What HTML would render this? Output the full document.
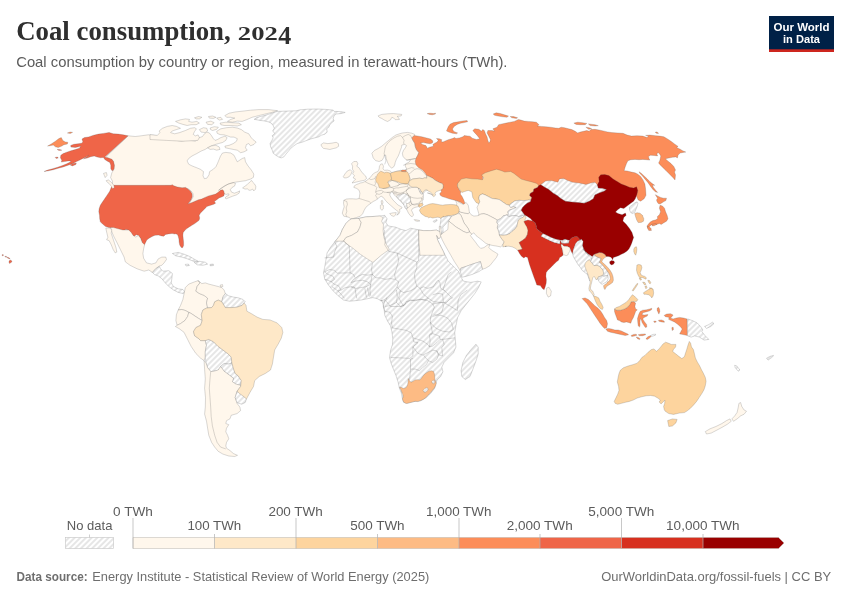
<!DOCTYPE html>
<html lang="en">
<head>
<meta charset="utf-8">
<title>Coal consumption, 2024</title>
<style>
html,body{margin:0;padding:0;background:#fff;}
body{width:850px;height:600px;overflow:hidden;font-family:"Liberation Sans",sans-serif;}
svg{display:block;}
.title{font-family:"Liberation Serif",serif;font-weight:bold;font-size:28px;fill:#2f2f2f;}
.sub{font-family:"Liberation Sans",sans-serif;font-size:15px;fill:#5b5b5b;}
.lg{font-family:"Liberation Sans",sans-serif;font-size:13px;fill:#5b5b5b;}
.ft{font-family:"Liberation Sans",sans-serif;font-size:13px;fill:#6e6e6e;}
.logo{font-family:"Liberation Sans",sans-serif;font-weight:bold;font-size:11.5px;fill:#fff;}
.map path{stroke:#555;stroke-opacity:0.5;stroke-width:0.45;stroke-linejoin:round;}
</style>
</head>
<body>
<svg width="850" height="600" viewBox="0 0 850 600">
<defs>
<pattern id="hatch" patternUnits="userSpaceOnUse" width="4" height="4" patternTransform="rotate(-45)">
<rect width="4" height="4" fill="#fff"/>
<rect x="0" y="0" width="4" height="2" fill="#e6e6e6"/>
</pattern>
</defs>
<rect width="850" height="600" fill="#fff"/>
<text class="title" x="16.2" y="40"><tspan textLength="214.5" lengthAdjust="spacingAndGlyphs">Coal consumption,</tspan> <tspan x="237.8" y="39.8" style="font-size:19.4px" textLength="40" lengthAdjust="spacingAndGlyphs">202</tspan><tspan x="278.3" y="43.8" style="font-size:25px" textLength="13" lengthAdjust="spacingAndGlyphs">4</tspan></text>
<text class="sub" x="16.2" y="66.5" textLength="491.3" lengthAdjust="spacingAndGlyphs">Coal consumption by country or region, measured in terawatt-hours (TWh).</text>
<g>
<rect x="769" y="16" width="65" height="36" fill="#002147"/>
<rect x="769" y="49.3" width="65" height="2.7" fill="#ce261e"/>
<text class="logo" x="801.5" y="31" text-anchor="middle" textLength="56" lengthAdjust="spacingAndGlyphs">Our World</text>
<text class="logo" x="801.5" y="43" text-anchor="middle" textLength="37" lengthAdjust="spacingAndGlyphs">in Data</text>
</g>
<g class="map">
<path d="M47.6,146.1L51.2,144.0L55.4,141.2L58.9,138.6L61.3,137.6L62.8,140.5L65.3,141.9L67.8,142.3L67.4,144.0L63.9,144.7L61.8,146.1L58.2,147.5L55.4,146.8L53.3,145.1L49.8,145.7Z" fill="#fc8d59"/>
<path d="M67.4,133.0L70.2,132.0L72.6,132.4L70.2,133.4Z" fill="#fc8d59"/>
<path d="M128.2,135.8L135.3,136.5L141.2,135.8L148.2,134.8L154.1,135.3L157.6,136.5L162.4,135.3L165.9,138.8L169.4,137.6L174.1,140.0L181.2,141.2L188.2,140.0L195.3,141.2L199.4,137.6L202.4,136.6L204.4,133.8L206.8,132.1L209.3,132.9L211.3,135.4L213.4,138.7L215.1,140.4L217.5,139.5L220.8,137.6L224.9,136.2L227.1,137.6L225.8,140.4L222.5,142.5L218.4,143.6L214.2,144.8L210.9,146.1L207.6,147.8L205.2,149.4L201.1,151.1L196.9,153.5L192.0,156.0L188.7,158.5L187.1,160.9L188.7,164.2L192.0,165.9L196.1,167.5L200.2,169.2L203.5,171.6L203.0,175.8L204.4,178.7L206.8,178.2L209.0,174.9L209.6,171.6L213.4,169.2L215.9,166.7L217.5,163.4L219.2,159.3L220.5,156.0L222.5,153.0L225.8,152.4L230.7,153.0L234.0,155.2L235.6,158.5L237.3,161.8L239.8,160.1L242.2,158.5L244.7,157.6L245.5,161.8L248.0,165.9L251.3,170.0L253.8,174.1L253.4,177.4L250.5,179.1L245.5,180.7L239.8,181.5L234.0,182.4L228.2,184.0L224.1,186.5L218.5,190.3L221.5,187.9L225.0,185.6L229.1,183.8L233.2,182.6L235.6,183.5L234.4,186.2L232.1,187.4L230.3,189.7L231.5,192.1L234.4,193.2L237.4,192.1L239.7,190.9L239.1,193.2L236.2,195.0L232.6,196.2L229.1,197.6L226.2,198.8L225.0,197.9L226.8,196.2L229.1,195.0L228.5,193.8L226.2,194.4L224.4,193.8L222.6,191.5L220.3,191.5L218.5,193.2L215.6,195.2L212.1,196.2L208.5,197.1L205.0,198.5L201.5,200.3L198.5,200.9L194.4,202.6L190.3,204.4L187.9,205.0L189.5,203.2L191.1,200.3L193.2,196.8L193.0,193.8L191.1,190.9L188.5,189.1L185.6,188.2L182.1,188.6L177.4,187.9L173.2,186.5L171.5,186.3L165.0,186.3L171.5,186.2L112.6,186.2L112.4,183.5L112.5,181.2L110.6,177.6L111.8,172.9L113.6,169.9L114.1,165.9L112.9,160.7L109.4,158.8L106.4,156.5Z" fill="#fff7ec"/>
<path d="M128.1,135.8L123.2,134.8L118.2,134.1L113.3,133.8L109.1,132.4L103.4,133.4L98.5,134.1L93.5,135.2L88.6,136.9L84.4,137.6L82.0,139.1L82.9,141.9L81.5,143.3L78.0,143.7L73.8,144.3L70.7,145.4L70.9,147.1L75.2,147.5L78.7,146.8L80.8,146.1L79.4,148.2L75.2,149.6L70.9,150.8L66.7,152.2L63.2,153.6L60.8,155.3L60.4,157.8L61.8,160.2L61.3,162.1L64.6,161.6L68.1,160.9L70.9,160.9L70.2,162.1L66.7,163.8L62.5,165.5L57.5,167.3L52.6,168.7L47.6,170.1L44.1,171.5L48.4,170.8L53.3,169.7L58.2,168.3L63.2,166.9L68.1,165.2L72.4,163.8L76.6,161.6L79.4,160.2L82.9,158.4L85.8,157.0L88.6,155.3L86.5,157.0L83.6,158.8L87.2,158.1L90.7,156.7L94.2,156.0L97.1,157.0L100.6,157.8L103.4,157.4L104.8,159.5L107.4,161.2L109.8,162.4L110.8,165.2L110.8,168.7L111.9,170.5L113.0,170.5L114.1,168.7L114.4,165.2L113.6,161.6L111.9,159.2L108.4,158.1L104.8,157.0Z" fill="#ef6548"/>
<path d="M70.2,164.9L73.1,163.5L76.3,163.1L75.9,164.5L72.4,165.9Z" fill="#ef6548"/>
<path d="M57.1,149.4L59.6,149.4L61.8,150.2L58.9,150.4Z" fill="#ef6548"/>
<path d="M55.1,157.4L57.5,157.0L58.2,158.1L56.1,158.4Z" fill="#ef6548"/>
<path d="M112.6,185.3L171.5,185.3L172.1,184.5L173.2,185.6L177.4,187.0L182.1,187.7L185.6,187.4L187.9,188.9L190.3,190.9L192.1,193.8L192.3,196.8L191.1,199.7L189.5,202.1L187.9,203.8L190.3,203.2L194.4,201.5L198.5,199.7L201.5,199.1L205.0,197.4L208.5,195.9L212.1,195.0L215.6,194.1L218.5,192.1L220.3,190.3L222.6,189.7L223.8,190.9L224.4,193.8L223.8,195.9L221.5,197.1L219.1,197.9L216.8,199.7L214.4,201.5L215.6,203.2L213.8,204.2L211.5,205.0L209.1,205.8L206.8,206.5L205.6,207.9L203.8,209.7L202.1,211.5L200.3,213.2L199.1,215.6L199.7,217.9L199.1,220.3L196.8,222.1L194.4,223.8L191.5,225.6L188.5,227.4L186.2,229.1L184.4,230.9L183.2,232.6L182.9,235.0L183.2,238.5L183.6,242.1L183.6,245.6L182.6,247.7L181.2,247.4L179.7,245.0L179.1,242.1L178.9,239.1L178.2,236.2L177.4,234.4L175.6,233.8L175.0,234.1L172.1,233.5L168.5,233.9L165.6,234.4L163.8,236.2L161.5,235.9L158.5,235.1L155.0,235.3L152.1,236.5L149.1,238.2L146.8,240.0L145.6,242.4L144.4,244.9L142.6,244.1L141.5,241.8L140.3,238.2L138.5,235.3L136.2,234.7L134.4,236.2L132.1,235.3L130.3,232.4L128.5,230.0L125.8,229.6L123.8,230.6L120.9,230.4L116.8,229.2L112.6,228.2L109.1,227.6L105.6,226.5L102.6,224.1L100.3,221.8L99.7,218.8L99.5,215.3L98.8,211.8L99.1,208.8L100.3,205.3L102.6,201.8L105.0,198.2L107.4,194.7L109.7,191.2L110.9,188.2Z" fill="#ef6548"/>
<path d="M110.7,227.4L113.5,227.6L118.2,228.8L122.9,230.0L128.8,230.0L131.2,232.4L133.5,235.9L135.9,237.1L138.2,235.4L140.6,238.2L142.2,242.5L144.6,244.8L143.6,248.8L142.9,253.5L143.6,258.2L146.5,262.9L151.6,264.1L155.9,262.9L158.2,258.9L161.8,257.1L165.8,257.1L166.5,259.4L164.1,262.9L161.8,265.3L159.4,266.0L157.1,267.6L154.7,270.0L152.4,272.4L148.8,270.0L144.1,271.2L137.1,268.8L130.0,265.3L125.3,261.8L124.1,257.1L120.6,250.0L117.1,242.9L113.5,235.9L111.6,231.2Z" fill="#fff7ec"/>
<path d="M105.8,228.2L109.1,227.9L111.9,229.6L111.2,233.2L112.8,238.1L114.5,243.1L116.1,248.0L116.8,252.1L115.2,252.9L113.2,249.6L111.2,244.7L109.1,240.6L106.6,239.8L107.9,237.3L106.9,233.2Z" fill="#fff7ec"/>
<path d="M152.4,272.4L155.9,268.4L159.4,266.5L160.6,268.8L162.9,271.2L168.8,270.7L172.4,273.5L171.9,278.2L171.2,282.9L173.5,286.5L178.2,288.8L182.9,289.5L185.3,292.4L182.9,293.5L178.2,292.4L173.5,290.0L168.8,286.5L165.3,282.9L161.8,278.7L158.2,275.9L154.7,274.7Z" fill="url(#hatch)" stroke="#999" stroke-opacity="0.38"/>
<path d="M172.4,253.5L178.2,252.4L184.1,254.2L190.0,256.6L194.7,259.4L198.2,261.3L193.5,261.3L187.6,258.9L181.8,257.1L175.9,255.9Z" fill="url(#hatch)" stroke="#999" stroke-opacity="0.38"/>
<path d="M194.0,262.2L199.4,261.3L205.3,262.2L207.6,264.1L202.9,265.3L197.1,264.8Z" fill="url(#hatch)" stroke="#999" stroke-opacity="0.38"/>
<path d="M185.3,264.4L188.4,264.1L189.3,265.5L186.0,266.0Z" fill="url(#hatch)" stroke="#999" stroke-opacity="0.38"/>
<path d="M210.0,264.4L213.3,264.1L213.5,265.5L210.2,265.8Z" fill="url(#hatch)" stroke="#999" stroke-opacity="0.38"/>
<path d="M254.2,119.3L256.8,117.5L260.0,116.6L264.2,115.6L269.5,114.0L273.8,112.4L277.5,111.4L286.5,111.1L296.0,110.8L300.2,109.8L307.6,109.2L317.2,109.0L325.6,109.4L333.1,110.1L334.1,111.4L340.5,111.6L345.2,112.4L341.5,113.5L336.2,114.0L334.1,115.6L333.1,118.8L334.1,120.9L332.0,122.5L329.9,124.6L328.8,127.2L326.7,128.8L327.2,132.0L325.1,134.1L321.4,135.2L318.8,136.8L315.1,137.8L310.8,138.9L306.6,140.5L302.4,142.1L297.1,143.6L293.9,145.8L290.7,148.4L288.1,151.6L285.9,154.2L283.8,156.9L281.2,157.9L278.5,156.9L275.9,155.3L273.2,153.2L272.2,150.0L270.6,146.8L270.1,143.6L271.6,141.0L273.2,137.8L272.2,135.7L274.8,133.6L272.7,130.9L274.3,128.3L273.2,125.6L271.1,123.0L268.5,121.9L264.2,120.9L260.0,120.4Z" fill="url(#hatch)" stroke="#999" stroke-opacity="0.38"/>
<path d="M320.9,144.7L323.5,142.9L327.8,143.6L332.0,143.1L336.2,142.3L338.4,143.6L338.6,146.3L336.2,147.9L333.1,148.6L329.9,149.5L326.7,148.9L323.5,148.4L321.9,146.8Z" fill="#fff7ec"/>
<path d="M150.0,134.6L157.4,135.4L159.9,132.6L159.1,131.0L162.4,128.3L167.3,126.4L172.2,125.5L176.4,126.4L180.5,128.3L176.4,129.6L172.2,131.0L170.6,132.6L174.7,133.8L179.6,132.6L185.4,130.5L190.4,128.3L194.5,127.7L196.4,128.8L194.5,131.6L193.2,134.3L195.3,135.9L198.1,134.9L199.4,137.6L197.8,140.4L182.9,141.2L166.5,140.4L150.0,139.5Z" fill="#fff7ec"/>
<path d="M216.7,131.3L220.8,128.8L226.6,127.7L232.4,127.2L237.3,128.0L241.4,129.6L244.7,132.1L248.8,133.8L250.8,137.1L252.9,139.5L256.2,142.0L253.8,144.5L250.5,145.8L248.8,143.6L246.4,144.5L245.5,147.8L247.2,150.2L243.9,151.9L240.6,152.7L237.3,150.2L233.2,149.4L229.1,148.6L225.4,147.8L224.9,146.1L229.1,145.3L233.2,143.6L236.5,141.2L237.3,138.7L234.0,137.1L230.7,137.1L227.4,135.9L224.1,134.9L220.0,134.6L217.2,133.3Z" fill="#fff7ec"/>
<path d="M224.9,115.6L229.1,113.2L235.6,111.9L242.2,111.2L250.5,110.2L258.7,109.6L268.6,109.6L277.6,110.7L271.9,112.4L265.3,114.0L258.7,115.6L252.1,117.3L246.4,119.8L242.2,121.4L237.3,121.1L232.4,122.2L227.4,121.4L230.7,119.4L234.8,118.1L230.7,117.3L226.6,117.3Z" fill="#fff7ec"/>
<path d="M220.0,123.1L225.8,122.2L232.4,122.7L238.9,123.1L241.4,124.7L237.3,126.0L230.7,125.5L224.1,125.5L220.8,124.7Z" fill="#fff7ec"/>
<path d="M175.5,121.4L180.5,119.8L185.4,118.9L189.5,119.4L188.7,121.4L192.0,122.2L196.9,121.4L199.4,123.1L196.1,124.7L191.2,124.7L187.1,125.5L182.9,124.4L178.8,123.1Z" fill="#fff7ec"/>
<path d="M194.5,117.8L198.6,116.5L201.9,117.3L199.4,118.9L196.1,118.9Z" fill="#fff7ec"/>
<path d="M208.5,116.5L212.6,116.0L215.9,117.3L213.4,118.4L209.3,118.1Z" fill="#fff7ec"/>
<path d="M216.7,118.1L220.8,117.3L222.5,119.4L219.2,120.1Z" fill="#fff7ec"/>
<path d="M206.0,122.2L210.9,121.1L214.2,122.7L211.8,124.7L207.6,124.4Z" fill="#fff7ec"/>
<path d="M199.4,129.6L203.5,127.7L206.8,128.3L207.6,131.0L205.2,132.6L201.1,132.1Z" fill="#fff7ec"/>
<path d="M210.1,128.0L214.2,126.7L218.4,127.2L216.7,129.3L212.6,130.5L210.6,129.6Z" fill="#fff7ec"/>
<path d="M207.6,147.8L211.8,145.8L215.9,145.3L219.2,146.9L220.0,149.4L216.7,150.2L213.4,149.1L210.1,149.4Z" fill="#fff7ec"/>
<path d="M242.6,187.9L245.0,186.2L247.4,184.4L249.7,182.1L251.5,180.3L252.6,182.1L254.4,183.8L255.8,186.2L255.6,189.1L253.8,190.9L252.6,189.1L250.9,190.1L249.1,190.3L247.4,188.9L245.0,189.1Z" fill="#fff7ec"/>
<path d="M106.2,180.6L108.5,180.0L111.5,182.4L113.8,185.3L114.4,187.6L112.6,188.8L111.5,186.5L109.1,183.5L106.8,181.8Z" fill="#fff7ec"/>
<path d="M103.5,173.4L106.4,172.5L107.1,175.3L105.2,177.6Z" fill="#fff7ec"/>
<path d="M185.3,287.6L188.8,284.1L194.7,281.8L198.2,280.6L199.9,282.9L197.1,286.5L195.9,291.2L199.4,293.5L204.1,295.4L207.6,298.2L206.5,302.9L207.6,307.6L206.5,308.1L202.9,310.0L201.3,314.7L202.2,320.6L198.2,318.2L194.7,315.9L191.2,313.5L188.8,312.4L185.3,310.5L181.8,309.5L178.2,310.0L180.6,305.3L182.9,299.4L184.1,293.5Z" fill="#fff7ec"/>
<path d="M198.2,280.6L199.9,282.9L197.1,286.5L195.9,291.2L199.4,293.5L204.1,295.4L207.6,298.2L206.5,302.9L207.6,307.6L211.6,307.6L213.5,305.3L214.7,301.8L218.2,300.1L221.8,301.8L222.9,297.1L225.3,293.5L224.1,290.0L221.8,287.6L218.2,286.5L213.5,285.3L208.8,284.1L205.3,282.9L201.8,283.6Z" fill="#fff7ec"/>
<path d="M220.1,285.1L222.5,284.6L222.9,286.5L220.6,286.9Z" fill="#fff7ec"/>
<path d="M222.9,297.1L225.3,293.5L228.8,295.9L233.5,297.1L238.2,297.8L242.9,299.4L245.3,301.8L244.1,302.9L242.2,305.3L237.1,307.2L231.2,307.6L225.3,307.6L221.8,301.8Z" fill="url(#hatch)" stroke="#999" stroke-opacity="0.38"/>
<path d="M178.2,310.0L181.8,309.5L185.3,310.5L188.8,312.4L187.6,316.6L184.8,320.6L180.6,323.6L177.1,325.3L175.9,320.6L176.4,314.7Z" fill="#fff7ec"/>
<path d="M177.1,325.3L180.6,323.6L184.8,320.6L187.6,316.6L188.8,312.4L191.2,313.5L194.7,315.9L198.2,318.2L202.2,320.6L200.6,325.3L195.9,327.6L193.5,331.6L194.7,335.9L198.2,338.2L200.6,340.6L205.3,340.6L206.5,345.3L205.3,351.2L205.3,357.1L204.1,360.6L200.6,358.2L195.9,353.5L191.2,346.5L187.6,339.4L184.1,332.4L179.4,328.8L175.4,326.5Z" fill="#fff7ec"/>
<path d="M205.3,340.6L208.8,339.4L213.5,341.8L218.2,346.5L222.9,350.0L227.6,353.5L231.2,357.1L231.9,362.9L228.8,364.1L224.1,363.6L220.6,366.5L218.2,370.0L214.0,371.2L210.7,371.6L207.6,367.6L206.0,362.9L205.3,357.1L205.3,351.2L206.5,345.3Z" fill="url(#hatch)" stroke="#999" stroke-opacity="0.38"/>
<path d="M220.6,366.5L224.1,363.6L228.8,364.1L231.9,362.9L233.5,368.8L235.2,373.5L238.2,375.9L241.3,380.6L240.6,385.3L235.9,384.1L232.4,381.8L233.5,378.2L228.8,374.7L224.1,371.2Z" fill="url(#hatch)" stroke="#999" stroke-opacity="0.38"/>
<path d="M204.1,360.6L206.0,362.9L207.6,367.6L210.7,371.6L214.0,371.2L218.2,370.0L220.6,366.5L224.1,371.2L228.8,374.7L233.5,378.2L232.4,381.8L235.9,384.1L240.6,385.3L240.6,386.5L237.1,391.2L235.2,397.1L235.2,397.6L237.1,403.5L239.9,407.1L240.6,410.6L237.1,413.6L231.2,415.3L230.0,418.8L226.5,420.7L225.8,423.5L228.8,424.7L226.5,428.2L225.8,431.8L227.6,435.3L228.8,438.8L226.5,442.4L225.8,445.9L226.5,448.2L230.0,450.6L233.5,453.6L237.5,455.3L234.7,456.5L228.8,456.0L222.9,454.1L218.2,451.3L214.7,447.1L211.6,442.4L208.8,435.3L207.6,428.2L206.5,421.2L204.6,414.1L205.3,407.1L205.5,397.6L204.6,388.2L205.3,378.8L204.6,369.4L204.1,361.2Z" fill="#fff7ec"/>
<path d="M210.7,371.8L210.0,378.8L209.3,388.2L210.0,397.6L210.7,407.1L211.2,416.5L212.4,425.9L214.7,435.3L217.1,442.4L220.6,447.1L225.8,448.9" fill="none"/>
<path d="M237.1,391.3L240.6,392.9L242.9,395.3L246.5,398.8L245.3,402.4L241.8,404.2L237.1,402.8L235.2,397.6Z" fill="url(#hatch)" stroke="#999" stroke-opacity="0.38"/>
<path d="M214.7,301.8L218.2,300.1L221.8,301.8L225.3,307.6L231.2,307.6L237.1,307.2L242.2,305.3L244.1,302.9L246.0,305.3L246.9,311.2L251.2,313.5L257.1,317.1L262.9,319.4L270.0,319.9L277.1,322.9L281.8,327.6L282.9,332.4L281.3,338.2L278.2,344.1L274.7,350.0L273.5,357.1L272.4,364.1L270.5,370.0L265.3,373.5L259.4,376.4L254.7,380.6L253.5,386.5L250.0,392.4L246.5,398.9L242.9,395.9L239.4,393.5L237.1,391.2L240.6,386.5L241.3,380.6L238.2,375.9L235.2,373.5L233.5,368.8L231.9,362.9L231.2,357.1L227.6,353.5L222.9,350.0L218.2,346.5L213.5,341.8L208.8,339.4L205.3,340.6L200.6,340.6L198.2,338.2L194.7,335.9L193.5,331.6L195.9,327.6L200.6,325.3L202.2,320.6L201.3,314.7L202.9,310.0L206.5,308.1L211.6,307.6L213.5,305.3Z" fill="#fee8c8"/>
<path d="M343.2,176.8L345.0,173.8L347.4,170.9L350.3,169.7L352.1,171.5L350.9,174.4L349.1,176.8L346.2,177.9L344.2,177.9Z" fill="#fff7ec"/>
<path d="M351.5,163.8L353.8,161.5L356.8,161.5L357.9,163.8L356.8,166.2L359.1,167.9L360.9,170.9L363.2,173.8L365.8,176.2L366.5,178.5L364.4,180.3L360.3,181.1L356.2,182.1L352.1,183.0L353.8,180.9L355.6,179.1L353.2,177.9L354.4,175.6L352.6,173.8L353.8,171.5L352.4,169.1L352.6,166.2Z" fill="#fff7ec"/>
<path d="M380.6,164.2L379.5,166.2L379.1,169.1L377.9,171.5L375.0,172.6L372.6,174.4L370.9,176.8L369.1,178.5L366.8,180.3L365.0,181.5L362.6,182.6L360.3,183.0L358.5,183.8L356.8,184.4L354.4,185.8L353.8,187.4L356.8,188.5L359.1,190.3L359.9,193.2L359.5,196.2L359.1,198.5L356.2,199.1L352.6,198.8L349.1,198.8L346.2,199.1L343.8,200.3L343.5,203.2L344.2,206.8L343.0,210.3L342.3,213.2L343.8,216.2L346.8,216.8L349.1,217.4L350.9,219.1L353.2,218.5L356.8,217.4L360.3,216.2L362.6,213.8L364.2,210.3L365.8,207.4L368.5,205.0L370.9,203.2L373.2,201.5L375.6,200.3L377.4,199.1L379.1,197.6L381.1,196.2L383.2,197.4L385.4,200.3L387.9,203.0L390.9,205.6L393.8,208.2L396.4,210.3L398.3,211.7L397.9,213.8L396.8,215.2L399.1,213.6L399.9,211.2L399.5,209.4L401.5,208.5L402.1,207.4L400.3,206.2L397.9,205.0L395.6,202.6L393.2,200.3L391.2,197.6L389.7,195.0L390.3,192.9L392.1,191.7L393.2,193.2L394.4,195.0L396.2,196.8L398.5,199.1L400.9,201.5L403.2,203.8L405.0,206.2L406.2,208.5L407.4,210.9L408.5,213.2L410.3,215.6L412.1,216.8L413.6,215.0L412.6,212.6L411.5,210.3L412.6,208.5L415.0,207.4L417.4,206.8L419.7,205.6L421.5,204.4L422.6,203.2L422.1,201.5L423.0,199.7L423.5,197.4L422.6,195.0L423.8,192.6L425.6,190.9L427.9,190.3L435.0,190.3L435.0,155.0L415.0,155.0L411.5,155.6L409.1,156.8L407.9,158.5L410.3,160.3L409.1,162.1L406.8,163.2L405.0,164.4L405.6,166.8L406.8,169.1L405.6,170.3L402.6,170.9L400.9,170.3L397.4,170.9L393.8,172.1L391.5,172.6L390.3,170.9L387.4,170.1L384.4,170.3L383.0,168.9L383.5,166.2L382.3,163.8Z" fill="#fff7ec"/>
<path d="M389.7,213.6L392.6,212.9L396.2,212.6L395.6,215.0L393.8,216.4L391.5,215.6Z" fill="#fff7ec"/>
<path d="M380.3,205.4L381.8,204.6L383.5,205.6L383.2,209.1L381.8,210.3L380.4,208.5Z" fill="#fff7ec"/>
<path d="M381.1,200.9L382.3,200.3L383.0,202.1L382.5,204.2L381.5,203.8Z" fill="#fff7ec"/>
<path d="M408.7,174.5L410.4,172.8L412.4,171.2L414.5,169.5L416.9,168.7L419.4,169.1L421.5,170.4L423.5,172.4L425.2,174.5L426.8,176.1L426.8,178.2L424.8,177.8L422.7,178.6L419.4,178.2L416.1,178.6L412.8,179.0L409.9,180.6L409.9,178.6L409.4,176.5Z" fill="#fff7ec"/>
<path d="M406.6,189.7L409.1,188.5L411.2,187.6L412.8,187.4L414.9,187.2L416.9,187.4L418.6,188.2L419.8,191.8L421.1,193.8L422.7,193.4L423.5,195.1L422.7,196.7L421.9,197.9L421.5,200.0L420.6,201.6L419.0,202.5L419.4,203.7L416.9,203.5L414.9,204.1L412.8,204.4L411.2,203.3L410.8,201.2L410.2,199.6L410.4,196.7L408.7,195.9L407.5,193.8L406.2,191.8Z" fill="#fff7ec"/>
<path d="M376.2,177.4L377.4,174.5L379.1,172.4L380.7,171.2L382.4,171.8L384.4,172.8L386.5,172.2L388.5,172.6L390.2,173.2L391.0,175.7L391.6,178.2L391.2,180.2L389.4,180.6L387.7,181.9L388.5,183.5L389.8,185.2L389.4,186.8L387.7,187.6L385.6,188.2L383.2,188.5L380.7,188.1L379.1,187.6L378.6,185.6L377.8,183.5L376.2,181.9L375.6,179.8Z" fill="#fdd49e"/>
<path d="M390.2,173.2L392.6,172.4L395.5,171.6L398.4,171.2L401.3,170.9L403.8,171.6L406.6,171.6L408.0,172.6L408.7,174.5L409.4,176.5L409.9,178.6L409.5,180.6L408.7,182.7L407.5,183.9L405.4,184.1L402.9,183.5L400.9,183.3L398.8,182.3L396.8,181.5L394.7,180.8L392.6,180.5L391.2,180.2L391.6,178.2L391.0,175.7Z" fill="#fdd49e"/>
<path d="M401.1,170.6L402.5,169.9L405.0,169.9L406.4,170.6L406.2,171.6L403.8,171.6L401.5,171.4Z" fill="#fc8d59"/>
<path d="M396.4,195.9L398.4,195.1L400.9,194.8L402.9,193.8L404.6,193.4L406.6,194.2L408.0,195.9L409.1,197.5L410.4,197.9L410.2,199.6L410.8,201.2L409.5,202.5L408.3,203.3L407.1,203.7L406.2,202.7L406.6,204.5L407.1,206.6L407.5,208.2L406.2,209.1L405.0,207.8L404.2,205.8L403.8,204.1L402.5,203.3L401.7,201.6L400.1,200.4L398.4,198.8L397.2,197.3Z" fill="url(#hatch)" stroke="#999" stroke-opacity="0.38"/>
<path d="M371.8,153.2L374.7,150.3L378.2,148.5L381.8,146.2L385.3,143.2L388.8,140.3L392.4,137.4L395.9,135.0L399.4,133.8L402.9,132.9L407.6,132.4L411.8,133.2L414.7,134.4L414.1,135.6L411.8,137.9L412.9,140.3L414.7,143.2L415.3,146.8L416.5,149.7L418.8,152.6L417.6,155.6L415.9,158.5L412.9,159.1L410.0,159.7L407.1,160.3L404.7,158.5L402.9,156.2L402.4,153.2L403.5,150.3L405.3,147.9L406.5,145.6L404.7,144.4L401.8,145.0L401.5,147.4L400.4,150.3L399.4,153.2L398.2,156.2L396.5,159.1L395.3,162.1L394.7,165.0L394.6,165.0L393.8,166.8L391.5,168.2L389.1,165.6L387.4,162.1L386.2,158.5L385.6,155.0L384.4,155.0L383.8,157.4L382.1,160.3L379.1,161.5L375.6,160.6L373.2,157.9L372.4,155.0Z" fill="#fff7ec"/>
<path d="M411.8,137.9L414.1,135.6L417.1,135.9L421.8,136.8L426.5,137.9L430.6,139.1L432.9,140.9L432.4,143.0L430.0,143.8L426.5,143.2L423.5,142.6L420.6,143.0L422.4,144.4L425.9,145.6L427.6,148.5L428.8,147.4L431.2,146.8L433.5,146.2L432.9,144.4L434.7,143.2L437.1,142.1L438.2,140.3L436.5,138.5L439.4,138.8L441.8,139.7L441.2,141.5L442.9,142.1L445.3,140.9L448.2,139.7L452.4,138.5L454.7,137.6L455.9,138.5L459.4,137.9L462.9,136.8L464.1,135.6L467.6,135.9L470.0,136.2L472.3,138.2L476.4,139.5L479.7,138.7L477.2,135.4L474.8,132.9L472.8,130.5L474.8,128.8L478.9,129.3L481.4,131.3L482.7,129.6L484.3,130.5L485.5,133.8L487.1,137.1L487.9,140.4L488.8,142.8L489.9,142.0L490.4,139.5L488.8,136.2L487.1,132.9L487.9,130.5L492.1,130.5L494.5,131.3L492.9,128.8L497.0,127.2L498.6,124.7L501.9,123.9L506.1,123.1L510.2,122.2L514.3,121.4L518.4,119.4L520.9,120.1L524.2,121.1L528.3,121.4L532.4,121.7L536.5,122.2L539.0,124.7L537.4,126.0L541.5,126.4L545.6,126.7L550.5,127.2L555.5,128.0L558.8,128.3L561.2,127.2L564.5,127.7L568.6,128.8L571.9,129.6L575.2,131.3L577.7,132.9L580.2,132.1L583.5,131.3L586.8,130.5L589.2,131.3L590.9,129.6L595.0,129.3L599.0,130.0L603.2,130.9L607.5,131.9L611.7,132.6L617.4,132.9L623.0,133.3L627.2,135.1L631.5,136.1L637.1,135.7L642.8,136.1L647.0,137.5L648.4,136.1L645.6,135.4L649.8,135.1L655.5,135.7L659.7,136.1L663.9,136.8L667.5,138.9L671.0,141.3L674.5,143.9L678.1,146.4L676.6,147.4L680.2,149.2L683.0,150.9L685.8,152.1L683.0,152.4L680.2,153.1L678.1,154.9L677.4,158.0L675.9,156.9L672.4,157.3L668.9,158.0L665.4,158.7L667.5,160.8L671.0,163.6L673.8,166.5L675.5,170.0L674.5,172.1L675.5,174.9L675.0,179.9L673.1,177.8L669.6,174.2L666.1,170.7L662.5,167.2L659.7,164.4L658.6,162.9L659.7,160.8L660.4,158.0L660.8,155.9L659.4,153.8L658.0,152.4L656.9,154.0L657.6,155.9L654.1,155.5L650.5,155.2L648.4,156.6L649.1,158.7L649.8,160.1L646.3,159.7L642.8,159.4L639.2,159.7L635.0,159.4L630.8,159.7L627.9,160.8L626.5,163.6L625.1,167.2L624.1,170.7L627.2,171.0L631.5,172.1L635.0,172.8L637.8,174.2L640.6,176.4L643.0,179.9L644.9,184.1L645.6,189.1L646.0,195.3L644.1,198.8L640.6,201.2L638.2,200.0L636.1,195.4L637.3,191.3L635.3,189.3L629.5,188.8L625.4,187.2L621.3,185.5L617.2,183.1L613.1,180.6L608.9,177.3L604.8,176.1L601.5,176.5L599.9,178.9L600.4,183.1L598.7,186.4L594.9,183.9L590.8,184.7L585.9,186.0L579.3,184.7L572.7,183.9L567.8,182.2L563.6,180.1L560.4,180.6L558.7,183.9L551.3,182.2L546.4,182.7L541.4,186.4L538.8,185.9L534.1,185.9L529.4,183.5L522.4,182.4L516.5,178.8L510.6,175.3L504.7,174.1L498.8,172.9L492.9,174.1L487.1,175.3L482.4,177.6L483.5,181.2L480.0,183.5L472.9,182.4L467.1,182.4L461.2,182.4L459.1,182.4L457.4,184.7L457.9,187.1L459.7,190.6L460.9,191.8L460.3,194.1L462.1,196.5L463.8,200.0L465.0,203.5L464.4,204.9L463.2,204.1L460.9,202.4L457.9,201.2L453.8,200.0L449.1,198.8L445.6,197.6L442.1,196.5L440.3,195.3L439.7,193.5L441.5,191.8L440.9,190.0L443.0,188.2L443.2,185.3L442.1,183.5L439.1,182.4L435.6,180.6L432.6,178.2L429.1,176.5L426.5,175.3L425.6,173.5L422.6,170.0L418.5,167.6L415.9,164.7L415.2,161.2L415.9,158.5L417.6,155.6L418.8,152.6L416.5,149.7L415.3,146.8L414.7,143.2L412.9,140.3Z" fill="#fc8d59"/>
<path d="M446.5,130.9L448.2,126.8L450.0,124.2L453.5,122.6L458.2,121.8L462.9,120.9L467.1,120.6L467.6,121.8L464.1,122.6L460.6,123.2L457.1,124.4L454.1,126.5L452.4,129.1L453.8,131.5L457.6,132.9L456.5,133.8L452.4,133.2L448.8,132.1Z" fill="#fc8d59"/>
<path d="M493.2,114.0L496.2,112.8L500.3,113.5L504.4,114.8L508.5,116.1L506.9,117.3L502.8,116.8L498.2,116.1L494.5,115.2Z" fill="#fc8d59"/>
<path d="M510.2,116.5L513.5,116.5L517.6,117.8L516.3,118.4L511.8,117.8Z" fill="#fc8d59"/>
<path d="M573.9,123.1L577.7,122.2L582.6,122.7L586.8,123.4L585.1,124.7L580.2,124.7L576.1,124.4Z" fill="#fc8d59"/>
<path d="M588.4,123.9L595.0,124.7L598.3,125.7L595.0,126.0L590.1,125.5Z" fill="#fc8d59"/>
<path d="M585.9,127.2L589.2,127.7L591.7,128.8L588.7,129.3Z" fill="#fc8d59"/>
<path d="M427.1,113.6L430.0,113.2L433.5,113.6L435.6,113.2L435.3,114.1L432.4,114.8L429.4,114.4Z" fill="#fc8d59"/>
<path d="M378.0,115.9L381.8,114.4L387.6,113.8L393.5,113.6L401.8,114.4L401.2,115.9L397.1,116.4L398.8,117.9L399.4,119.5L395.3,119.7L393.5,117.9L391.8,117.4L390.6,119.7L387.6,121.5L384.7,120.3L381.8,118.5L379.4,117.4Z" fill="#fff7ec"/>
<path d="M639.1,171.8L641.2,173.2L644.1,175.9L647.1,178.8L650.0,181.8L652.9,184.1L654.7,185.3L652.4,185.3L653.5,187.6L655.9,190.6L657.6,192.4L655.3,191.8L652.9,189.4L650.6,186.5L648.2,182.9L645.3,179.4L642.4,175.9L640.0,173.5Z" fill="#fc8d59"/>
<path d="M655.3,194.7L657.6,195.9L660.6,197.4L663.5,198.2L666.5,198.2L665.9,200.6L663.5,201.8L661.8,202.9L660.0,204.1L658.2,203.5L657.1,201.8L656.5,200.0L657.6,198.2Z" fill="#fc8d59"/>
<path d="M660.0,205.3L662.4,205.9L664.5,208.2L665.6,211.8L667.1,215.3L668.0,218.8L666.5,221.2L663.5,222.9L661.2,224.5L659.4,223.5L656.5,224.5L653.5,224.5L651.2,224.9L649.4,226.5L647.6,228.0L647.1,225.9L648.8,223.5L650.6,221.8L652.9,220.6L655.3,220.0L657.6,218.8L657.4,216.5L659.4,214.7L660.6,211.8L659.4,208.2Z" fill="#fc8d59"/>
<path d="M647.3,226.1L649.2,226.8L650.8,228.2L651.5,230.4L648.8,230.6L647.6,228.2Z" fill="#fc8d59"/>
<path d="M651.8,224.4L655.3,223.5L657.1,224.2L654.7,225.6L652.4,225.9Z" fill="#fc8d59"/>
<path d="M629.4,207.1L631.8,205.3L634.7,202.9L637.1,201.8L637.9,203.5L637.1,206.5L635.9,209.4L634.7,212.4L632.4,213.5L630.6,212.4L629.6,210.0Z" fill="url(#hatch)" stroke="#999" stroke-opacity="0.38"/>
<path d="M634.7,213.5L637.1,212.7L640.0,213.2L642.4,215.3L643.8,218.8L643.5,221.2L641.2,222.4L638.2,222.6L636.7,220.0L635.5,216.5Z" fill="#fdbb84"/>
<path d="M540.6,184.7L545.5,181.1L551.3,180.6L557.9,182.2L559.5,178.9L563.6,178.4L567.8,180.6L572.7,182.2L579.3,183.1L585.9,184.4L590.8,183.1L594.9,182.2L597.4,184.7L598.2,188.0L602.4,188.3L606.5,189.6L604.0,191.3L599.1,192.9L594.9,194.9L593.3,198.7L589.2,201.2L584.2,203.2L577.6,202.5L571.1,202.0L565.3,201.2L561.2,198.7L557.1,195.4L552.9,192.9L548.8,189.6L544.7,187.2Z" fill="url(#hatch)" stroke="#999" stroke-opacity="0.38"/>
<path d="M457.6,183.4L461.2,179.1L466.1,178.0L471.8,178.8L477.4,179.1L482.4,179.8L483.8,178.0L481.6,174.9L485.2,172.8L490.8,170.9L496.5,169.2L500.7,170.4L504.9,172.1L510.6,171.4L514.1,173.5L517.6,176.3L521.2,179.1L526.1,180.5L531.8,181.9L536.7,183.4L538.8,185.5L537.4,187.6L533.9,189.0L533.2,191.8L530.4,193.2L529.6,195.4L531.8,197.5L531.1,199.6L527.5,200.3L523.3,200.6L519.1,200.3L514.8,201.0L512.0,202.8L509.2,205.2L506.4,204.5L502.8,202.0L499.3,199.6L495.8,198.9L492.2,198.6L488.7,196.8L485.2,194.9L482.4,193.9L479.5,195.4L478.8,198.2L479.8,201.7L478.8,203.8L476.0,202.4L474.6,200.3L472.8,197.5L472.2,193.9L471.8,191.8L468.2,190.4L464.7,191.5L461.9,192.5L459.8,189.7L457.6,186.9Z" fill="#fdd49e"/>
<path d="M479.8,201.7L478.8,198.2L479.5,195.4L482.4,193.9L485.2,194.9L488.7,196.8L492.2,198.6L495.8,198.9L499.3,199.6L502.8,202.0L506.4,204.5L509.2,205.2L510.6,207.4L513.4,206.6L516.2,207.4L513.4,208.8L509.9,209.9L507.8,211.6L508.5,214.4L506.4,215.1L503.5,215.8L500.7,218.6L497.2,220.1L494.4,218.4L490.8,216.5L487.3,214.7L483.8,213.7L480.9,214.1L478.4,215.5L478.8,213.7L477.8,210.2L477.0,207.4L478.1,205.2L478.8,203.8Z" fill="#fff7ec"/>
<path d="M509.2,205.2L512.0,202.8L514.8,201.0L519.1,200.3L523.3,200.6L527.5,200.3L531.1,199.6L530.4,201.7L527.5,203.1L524.7,205.2L522.6,207.4L521.2,210.2L523.3,213.0L524.7,215.1L521.9,215.8L518.4,216.5L515.5,215.5L512.0,215.8L509.2,216.5L506.4,215.1L508.5,214.4L507.8,211.6L509.9,209.9L513.4,208.8L516.2,207.4L513.4,206.6L510.6,207.4Z" fill="url(#hatch)" stroke="#999" stroke-opacity="0.38"/>
<path d="M497.2,220.1L500.7,218.6L503.5,215.8L506.4,215.1L509.2,216.5L512.0,215.8L515.5,215.5L518.4,216.5L521.9,215.8L524.7,215.1L523.3,217.2L520.5,218.4L518.4,220.1L517.6,222.9L516.9,226.4L514.8,229.2L512.0,231.4L509.9,233.5L506.4,234.9L502.8,235.3L499.3,234.9L498.6,231.4L497.2,227.8L497.9,224.3L496.5,222.2Z" fill="url(#hatch)" stroke="#999" stroke-opacity="0.38"/>
<path d="M458.4,210.9L461.2,212.3L464.7,213.0L468.2,213.7L469.4,212.3L471.1,214.7L473.9,216.1L477.0,215.8L478.4,215.5L480.9,214.1L483.8,213.7L487.3,214.7L490.8,216.5L494.4,218.4L497.2,220.1L496.5,222.2L497.9,224.3L497.2,227.8L498.6,231.4L499.3,234.9L501.4,238.4L504.2,241.9L502.8,244.8L500.7,246.9L497.2,246.2L492.9,245.5L489.4,244.8L485.9,243.4L482.4,240.5L478.8,237.7L476.0,235.6L473.9,232.8L471.8,234.2L469.6,232.1L468.2,228.5L466.1,225.7L464.0,222.9L462.6,219.4L461.2,215.8L459.5,213.7Z" fill="#fff7ec"/>
<path d="M455.5,200.3L459.8,202.8L463.3,204.5L466.1,202.4L468.2,205.2L468.9,208.8L469.4,212.3L468.2,213.7L464.7,213.0L461.2,212.3L458.4,210.9L455.5,206.6L456.9,203.8Z" fill="#fff7ec"/>
<path d="M451.3,216.5L454.1,215.1L457.6,213.7L459.5,213.7L461.2,215.8L462.6,219.4L464.0,222.9L466.1,225.7L468.2,228.5L469.6,232.1L466.8,232.8L463.3,231.4L459.8,229.2L456.2,227.1L452.7,224.3L449.2,221.5L448.5,220.8Z" fill="#fff7ec"/>
<path d="M499.3,234.9L502.8,235.3L506.4,234.9L509.9,233.5L512.0,231.4L514.8,229.2L516.9,226.4L517.6,222.9L518.4,220.1L520.5,218.4L523.3,217.2L524.7,215.1L526.1,217.9L524.7,220.3L527.5,221.0L530.4,221.8L531.8,223.2L527.4,234.4L525.6,237.9L522.6,240.3L519.1,242.6L521.2,246.8L522.4,249.1L520.3,249.7L517.7,250.3L515.6,248.5L512.1,246.8L508.5,246.2L505.0,246.5L506.4,246.2L502.8,246.9L502.8,244.8L504.2,241.9L501.4,238.4Z" fill="#fee8c8"/>
<path d="M523.8,221.5L527.9,219.9L532.6,220.9L535.0,222.6L536.5,226.2L536.2,227.9L538.5,230.3L541.5,232.6L543.8,233.8L542.1,234.4L541.2,236.2L544.4,237.9L549.1,240.3L554.4,242.6L559.7,243.8L560.3,240.3L561.7,243.2L564.4,243.2L568.5,243.2L569.5,240.3L571.5,237.9L574.4,236.8L577.0,236.4L579.1,238.5L579.7,240.3L577.4,241.5L575.6,243.8L574.4,246.8L573.2,250.3L572.6,253.8L571.5,252.1L570.3,249.1L569.5,247.4L567.4,246.5L563.8,246.2L562.1,244.4L560.9,244.4L561.5,246.8L562.6,250.3L563.2,255.0L561.5,256.4L559.7,257.4L558.5,260.3L556.2,262.1L553.2,265.0L550.3,267.9L547.9,270.3L546.2,272.6L545.9,276.2L546.4,279.7L546.2,283.2L545.2,286.8L544.1,289.7L542.4,288.5L540.3,285.6L536.8,285.0L535.4,280.9L533.8,276.8L532.3,272.6L530.9,268.5L529.5,264.4L528.3,260.3L527.6,257.4L525.6,256.8L523.8,257.9L521.5,256.2L519.7,253.8L517.7,250.3L520.3,249.7L522.4,249.1L521.2,246.8L519.1,242.6L522.6,240.3L525.6,237.9L527.4,234.4L527.9,230.3L526.8,226.8L525.6,225.0Z" fill="#d7301f"/>
<path d="M541.2,236.2L542.1,234.4L543.8,233.8L547.4,235.6L551.5,237.4L555.6,239.1L560.1,240.1L559.7,243.8L554.4,242.6L549.1,240.3L544.4,237.9Z" fill="url(#hatch)" stroke="#999" stroke-opacity="0.38"/>
<path d="M562.1,240.3L565.0,239.1L567.9,239.9L568.5,243.0L564.4,243.2L561.7,243.0Z" fill="url(#hatch)" stroke="#999" stroke-opacity="0.38"/>
<path d="M560.9,244.4L562.1,244.4L563.8,246.2L567.4,246.5L569.5,247.4L570.3,249.1L569.7,251.5L568.5,253.2L567.9,255.0L566.2,255.6L564.4,255.0L563.2,255.0L562.6,250.3L561.5,246.8Z" fill="#fff7ec"/>
<path d="M546.6,288.1L548.9,287.2L551.3,291.2L550.6,295.9L548.2,297.1L546.4,293.5Z" fill="#fff7ec"/>
<path d="M572.6,253.8L573.2,250.3L574.4,246.8L575.6,243.8L577.4,241.5L579.7,240.3L581.5,239.1L583.2,241.5L582.6,245.6L583.8,249.1L586.2,252.6L589.1,255.6L591.5,257.9L592.6,260.3L590.3,261.5L588.5,260.3L587.4,262.6L586.2,265.0L587.9,267.9L589.1,271.5L589.9,275.0L590.6,279.1L589.7,280.9L588.5,277.4L587.4,274.4L585.0,272.6L582.1,270.3L580.3,267.4L577.9,264.4L576.2,261.5L574.4,258.5L573.2,256.2Z" fill="url(#hatch)" stroke="#999" stroke-opacity="0.38"/>
<path d="M585.2,263.2L587.1,260.9L589.4,259.7L590.8,261.4L592.2,263.2L594.1,265.6L596.9,265.1L599.3,266.1L601.2,267.9L603.1,270.3L603.7,273.1L602.6,275.5L600.2,276.4L598.4,276.9L597.4,279.2L596.0,279.7L595.1,277.8L594.1,276.4L592.7,277.8L592.2,280.2L591.5,283.0L590.8,285.8L590.4,288.2L591.1,290.1L592.7,291.0L592.9,291.5L594.2,294.7L593.5,296.0L592.2,294.1L590.3,291.5L589.4,291.0L588.9,288.6L589.4,285.8L590.2,283.0L589.9,280.2L588.9,277.4L588.0,274.5L586.8,271.7L585.8,268.9L584.7,266.1Z" fill="#fee8c8"/>
<path d="M592.2,256.6L594.1,254.3L595.1,255.7L596.5,256.6L598.8,257.6L601.2,258.5L600.2,260.9L599.3,262.3L600.9,263.2L602.6,265.1L604.7,267.5L606.8,270.3L608.2,272.6L607.8,275.5L605.4,275.9L603.7,276.4L603.7,273.1L603.1,270.3L601.2,267.9L599.3,266.1L596.9,265.1L594.1,265.6L592.2,263.2L590.8,261.4L591.8,259.0Z" fill="url(#hatch)" stroke="#999" stroke-opacity="0.38"/>
<path d="M598.4,276.9L600.2,276.4L602.6,275.5L603.7,276.4L605.4,275.9L607.8,275.5L608.2,278.3L607.3,281.1L605.4,282.5L603.5,283.5L602.1,284.4L600.2,283.0L598.8,281.1L597.9,279.2Z" fill="url(#hatch)" stroke="#999" stroke-opacity="0.38"/>
<path d="M594.1,254.3L596.5,253.4L599.3,252.4L602.1,252.7L604.9,254.3L606.4,256.6L604.3,258.1L602.6,259.7L601.8,261.8L603.5,263.2L605.4,265.1L607.8,267.5L610.1,270.3L612.0,273.6L613.1,276.9L613.4,280.2L612.5,282.5L610.6,283.9L608.2,285.4L606.4,286.8L604.9,289.6L604.0,288.2L603.5,285.8L604.9,284.4L606.8,283.5L607.3,282.1L609.2,281.1L610.3,278.8L609.9,275.9L608.7,273.1L606.8,270.3L604.7,267.5L602.6,265.1L600.9,263.2L599.3,262.3L600.2,260.9L601.2,258.5L598.8,257.6L596.5,256.6L595.1,255.7Z" fill="#fdbb84"/>
<path d="M540.6,184.7L544.7,187.2L548.8,189.6L552.9,192.9L557.1,195.4L561.2,198.7L565.3,201.2L571.1,202.0L577.6,202.5L584.2,203.2L589.2,201.2L593.3,198.7L594.9,194.9L599.1,192.9L604.0,191.3L606.5,189.6L602.4,188.3L598.2,188.0L597.4,184.7L599.1,181.4L598.7,177.3L600.7,174.8L604.8,174.5L608.9,175.6L613.1,178.9L617.2,181.4L621.3,183.9L625.4,185.5L629.5,187.2L633.6,188.0L636.6,186.7L637.8,190.5L636.9,194.6L635.3,198.7L633.6,201.2L630.4,203.6L627.1,206.1L623.8,208.6L620.5,207.8L618.0,209.4L615.5,211.9L618.0,213.5L622.1,214.7L625.4,213.0L626.2,215.2L623.8,217.6L622.9,220.9L626.2,224.2L629.5,228.4L632.0,232.5L633.6,237.4L633.8,236.9L632.7,240.2L631.6,243.5L630.4,246.3L628.9,249.1L627.1,251.0L624.2,252.9L621.4,254.3L618.6,255.7L615.8,256.8L613.4,257.6L612.5,259.9L612.0,258.5L610.6,257.1L608.2,256.5L606.4,256.6L604.9,254.3L602.1,252.7L599.3,252.4L596.5,253.4L594.1,254.3L592.2,256.6L590.4,255.2L588.0,253.8L585.6,251.5L582.8,249.1L589.1,255.6L589.1,255.6L586.2,252.6L583.8,249.1L582.6,245.6L583.2,241.5L581.5,239.1L579.7,240.3L579.1,238.5L577.0,236.4L574.4,236.8L571.5,237.9L569.5,240.3L567.9,239.9L565.0,239.1L562.1,240.3L560.1,240.1L555.6,239.1L551.5,237.4L547.4,235.6L543.8,233.8L541.5,232.6L538.5,230.3L536.2,227.9L536.5,226.2L535.0,222.6L532.6,220.9L531.8,220.1L530.4,218.6L527.5,216.5L524.7,215.1L523.3,213.0L521.2,210.2L522.6,207.4L524.7,205.2L527.5,203.1L530.4,201.7L531.1,199.6L531.8,197.5L529.6,195.4L530.4,193.2L533.2,191.8L533.9,189.0L537.4,187.6L538.8,185.5Z" fill="#990000"/>
<path d="M609.6,261.8L611.5,260.6L613.9,260.9L614.6,262.5L613.4,264.2L611.5,264.9L609.9,263.7Z" fill="#990000"/>
<path d="M633.8,249.1L635.1,247.0L636.5,246.8L636.9,249.1L636.5,252.4L635.7,255.2L634.6,253.8L633.8,251.5Z" fill="#fdd49e"/>
<path d="M636.9,265.1L638.8,264.4L641.2,265.1L641.9,267.5L641.2,270.3L640.2,272.6L641.2,275.0L643.1,275.9L644.9,276.4L646.4,277.8L645.9,279.2L644.0,278.3L642.1,277.4L640.2,277.8L638.8,276.4L637.4,273.6L636.5,270.3L636.7,267.5Z" fill="#fdd49e"/>
<path d="M639.1,277.8L640.7,278.1L641.6,279.7L640.2,280.2Z" fill="#fdd49e"/>
<path d="M642.6,282.1L644.9,282.5L645.9,284.4L644.5,284.9Z" fill="#fdd49e"/>
<path d="M647.8,280.2L649.6,280.6L650.8,282.5L650.1,283.9L648.7,282.5Z" fill="#fdd49e"/>
<path d="M644.9,286.3L646.4,285.8L647.0,287.7L645.9,288.8Z" fill="#fdd49e"/>
<path d="M649.6,287.7L652.0,288.2L653.2,290.1L651.5,291.0L650.1,289.6Z" fill="#fdd49e"/>
<path d="M632.2,290.5L634.1,287.7L636.0,284.9L637.4,283.2L637.9,283.9L636.5,286.3L634.6,289.1L633.2,291.0Z" fill="#fdd49e"/>
<path d="M351.8,218.8L358.8,218.4L365.9,216.9L372.9,216.5L380.0,216.0L384.7,215.3L387.1,218.8L385.9,222.4L388.2,225.9L390.6,226.4L395.3,227.1L401.2,229.4L405.9,230.6L410.6,228.2L416.5,229.4L423.5,230.6L430.6,230.6L436.5,230.1L440.0,231.8L441.9,235.3L438.8,238.8L436.5,235.3L437.6,240.0L440.5,245.9L443.5,251.8L445.9,256.5L448.2,261.2L451.8,264.7L455.3,268.2L458.8,271.8L461.2,277.6L463.5,281.2L470.6,282.4L477.6,281.2L481.2,281.9L478.8,287.1L475.3,292.9L470.6,298.8L465.9,304.7L461.2,310.6L457.6,317.6L455.9,325.9L454.7,332.9L455.4,340.0L455.9,347.1L453.5,352.9L448.8,357.6L444.1,362.4L441.8,367.1L442.9,371.8L440.6,376.5L437.1,380.0L435.9,383.5L434.7,388.2L431.2,392.9L426.5,397.6L420.6,400.7L413.5,401.6L407.6,403.1L403.6,402.4L402.2,397.6L401.3,392.9L399.4,388.2L398.2,382.4L395.9,375.3L393.5,369.4L391.2,363.5L389.5,357.6L390.5,350.6L392.4,344.7L392.8,338.8L391.9,331.8L390.5,325.9L387.6,321.2L384.8,315.3L384.1,309.4L382.9,303.5L381.8,300.0L381.6,301.2L377.6,298.8L372.9,297.6L367.1,298.8L361.2,300.0L355.3,300.7L349.4,301.2L343.5,300.0L337.6,295.3L332.9,290.6L328.2,284.7L324.7,278.8L323.5,272.9L324.7,267.1L325.9,260.0L327.1,252.9L330.6,247.1L335.3,241.2L340.0,235.3L342.4,229.4L345.9,223.5L349.4,220.0Z" fill="url(#hatch)" stroke="#999" stroke-opacity="0.38"/>
<path d="M351.8,218.8L358.8,218.4L361.2,222.4L360.0,227.1L357.6,231.8L351.8,235.3L345.9,237.6L343.5,241.2L335.3,241.2L340.0,235.3L342.4,229.4L345.9,223.5L349.4,220.0Z" fill="#fff7ec"/>
<path d="M358.8,218.4L365.9,216.9L372.9,216.5L380.0,216.0L383.1,217.6L381.6,221.2L383.5,224.7L383.1,230.6L384.0,237.6L385.9,243.5L389.4,249.4L381.2,255.3L372.9,262.4L367.1,258.8L360.0,254.1L352.9,248.2L344.7,242.4L343.5,241.2L345.9,237.6L351.8,235.3L357.6,231.8L360.0,227.1L361.2,222.4Z" fill="#fff7ec"/>
<path d="M418.4,230.1L423.5,230.6L430.6,230.6L436.5,230.1L440.0,231.8L441.9,235.3L438.8,238.8L436.5,235.3L437.6,240.0L440.5,245.9L443.5,251.8L444.7,255.3L420.0,255.3L418.8,242.4Z" fill="#fff7ec"/>
<path d="M399.6,387.0L401.5,387.5L403.8,388.4L406.2,387.5L407.6,385.1L408.1,381.8L408.3,378.5L409.7,380.9L410.9,382.3L412.8,381.4L415.1,379.9L417.5,379.7L419.8,379.9L421.2,378.5L422.6,376.6L424.5,374.3L426.9,372.4L429.2,371.2L431.6,370.8L433.5,371.5L434.4,373.8L434.7,376.6L434.9,379.7L435.8,381.8L436.3,383.2L435.6,385.6L434.4,387.9L432.5,390.3L430.6,392.6L428.3,395.0L425.9,397.4L423.6,399.2L420.8,400.6L417.9,401.6L415.1,401.3L412.3,402.1L409.5,402.8L406.6,403.5L404.8,403.0L403.1,401.1L402.4,398.8L403.4,396.4L402.4,393.6L401.5,391.2L400.5,389.1Z" fill="#fdbb84"/>
<path d="M423.1,390.3L425.0,388.4L426.9,387.5L428.3,388.9L427.4,390.8L425.5,392.2L424.1,392.2Z" fill="url(#hatch)" stroke="#999" stroke-opacity="0.38"/>
<path d="M431.9,381.4L433.0,380.2L434.7,380.6L434.9,382.8L433.5,383.7L432.1,383.0Z" fill="url(#hatch)" stroke="#999" stroke-opacity="0.38"/>
<path d="M461.1,370.6L462.9,362.4L466.5,355.3L471.2,349.4L475.9,344.2L478.2,347.1L478.2,354.1L475.9,361.2L472.8,369.4L470.0,376.5L465.3,379.5L461.8,376.5Z" fill="url(#hatch)" stroke="#999" stroke-opacity="0.38"/>
<path d="M419.9,209.4L421.1,207.7L423.6,206.5L426.5,205.2L429.8,204.0L432.6,203.6L435.9,204.0L439.2,204.7L442.5,205.2L445.0,204.8L451.1,204.4L455.2,204.8L458.0,206.1L459.3,209.7L458.5,213.0L455.2,214.6L451.1,215.5L446.9,216.0L443.2,217.1L443.4,216.4L441.7,217.6L440.9,218.8L440.1,217.6L437.6,217.2L435.1,217.6L432.6,218.0L430.2,217.2L428.5,217.8L427.3,216.8L425.2,216.4L423.2,215.1L421.5,213.9L420.3,212.2L419.5,210.6Z" fill="#fdd49e"/>
<path d="M418.2,205.6L419.1,204.0L420.7,203.2L422.4,203.6L423.2,204.8L421.9,206.1L420.1,206.9L419.1,207.3Z" fill="#fdd49e"/>
<path d="M441.2,217.9L443.5,217.0L448.5,215.8L451.3,216.5L448.5,220.8L445.6,224.3L442.8,227.1L443.2,232.8L441.2,234.4L440.4,230.3L439.9,226.2L440.8,220.4Z" fill="url(#hatch)" stroke="#999" stroke-opacity="0.38"/>
<path d="M439.2,226.5L440.5,226.2L441.2,230.3L441.2,234.4L440.4,235.2L439.5,231.1Z" fill="#fff7ec"/>
<path d="M440.4,235.2L443.2,232.8L447.8,229.5L448.5,220.8L449.2,221.5L452.7,224.3L456.2,227.1L459.8,229.2L463.3,231.4L466.8,232.8L469.6,232.1L471.8,234.2L470.4,235.6L472.5,238.4L475.3,241.9L478.2,245.9L480.7,248.4L484.0,247.6L487.3,245.1L489.8,244.3L488.9,247.6L491.4,250.1L495.5,252.5L498.0,254.2L496.4,257.5L493.1,261.6L489.8,265.7L485.6,268.2L482.4,269.3L481.5,265.7L480.4,261.6L472.5,264.1L465.9,266.5L460.9,268.2L460.1,270.6L457.6,266.5L454.4,261.6L451.1,255.8L447.8,250.1L444.5,244.3L442.0,239.4Z" fill="#fff7ec"/>
<path d="M460.9,268.2L465.9,266.5L472.5,264.1L480.4,261.6L481.5,265.7L482.4,269.3L479.1,271.5L472.5,274.3L465.9,276.4L461.8,277.2L460.1,270.6Z" fill="url(#hatch)" stroke="#999" stroke-opacity="0.38"/>
<path d="M414.1,219.6L416.2,219.8L418.6,220.3L419.9,220.9L417.8,221.3L415.4,220.9Z" fill="#fff7ec"/>
<path d="M433.1,221.3L434.7,220.5L436.8,219.6L437.2,220.5L435.5,221.7L433.9,222.3Z" fill="url(#hatch)" stroke="#999" stroke-opacity="0.38"/>
<path d="M582.1,298.6L585.1,297.9L588.4,299.5L591.6,302.5L594.8,305.7L598.1,308.3L600.6,310.9L602.6,314.1L604.5,317.4L606.7,320.6L607.5,323.8L606.7,327.7L604.5,328.4L602.6,326.4L600.0,323.2L597.4,319.3L594.8,315.4L592.2,311.5L589.6,307.6L587.1,303.8L584.2,300.8Z" fill="#fc8d59"/>
<path d="M605.8,329.0L608.4,328.4L611.6,329.0L614.9,330.0L618.1,330.0L621.4,330.9L624.6,332.6L627.8,333.9L628.5,334.8L625.2,335.5L622.0,334.8L618.1,333.9L614.2,333.1L610.4,332.2L607.5,331.3Z" fill="#fc8d59"/>
<path d="M631.1,335.5L633.6,334.4L636.2,334.2L636.9,335.2L634.3,336.1L631.7,336.5Z" fill="#fc8d59"/>
<path d="M638.2,334.8L641.4,334.2L645.3,333.9L645.6,334.8L642.7,335.7L639.5,335.7Z" fill="#fc8d59"/>
<path d="M636.2,337.0L638.2,337.4L640.1,338.7L639.5,339.6L637.5,338.7Z" fill="#fc8d59"/>
<path d="M645.9,338.7L647.9,336.8L650.2,335.7L651.1,336.5L649.2,338.3L647.2,339.6Z" fill="#fc8d59"/>
<path d="M650.5,335.5L653.1,334.4L655.6,334.2L655.4,335.2L652.8,336.1L651.1,336.5Z" fill="url(#hatch)" stroke="#999" stroke-opacity="0.38"/>
<path d="M614.5,308.9L616.8,310.2L620.7,310.2L624.6,308.9L627.8,307.0L629.8,304.4L631.1,301.8L633.6,301.6L635.6,303.1L634.9,306.4L635.6,308.9L637.3,309.8L635.6,311.5L634.7,314.1L633.4,317.4L631.7,320.6L630.8,323.2L628.5,322.5L626.5,321.9L623.9,322.5L621.4,321.9L619.4,320.6L617.5,319.9L616.6,317.4L615.3,314.1L614.5,311.5Z" fill="#fc8d59"/>
<path d="M614.5,308.9L616.2,307.6L619.4,306.4L622.6,304.4L625.9,302.5L628.5,299.9L630.4,297.3L632.4,294.7L634.3,296.0L636.2,297.9L637.8,299.5L636.9,301.2L634.9,301.6L633.6,301.6L631.1,301.8L629.8,304.4L627.8,307.0L624.6,308.9L620.7,310.2L616.8,310.2Z" fill="#fdd49e"/>
<path d="M637.8,322.5L637.5,318.6L638.6,314.8L640.1,311.5L642.7,310.2L646.6,309.8L649.8,308.9L651.8,308.3L651.5,309.8L649.2,311.1L645.9,311.9L642.7,312.8L642.1,314.8L644.6,315.0L647.9,314.5L647.2,316.1L644.0,317.4L642.7,318.9L644.6,321.9L646.6,324.5L646.8,327.1L645.3,327.4L643.7,325.1L642.1,322.5L641.4,319.9L640.4,318.6L639.9,321.9L640.1,325.1L639.5,327.1L638.2,325.8Z" fill="#fc8d59"/>
<path d="M657.2,308.3L658.5,307.3L659.5,308.9L659.8,311.5L658.9,314.1L658.0,312.2L657.2,310.2Z" fill="#fc8d59"/>
<path d="M653.7,321.2L655.6,321.0L656.3,321.9L654.4,322.5Z" fill="#fc8d59"/>
<path d="M658.5,320.2L661.5,319.9L664.1,321.0L664.4,322.3L661.5,321.9L658.9,321.2Z" fill="#fc8d59"/>
<path d="M664.1,315.4L666.6,314.1L670.5,313.7L673.1,315.0L671.8,316.7L670.5,318.0L673.1,318.9L676.4,318.0L679.6,317.4L683.5,318.0L687.0,318.9L687.4,335.5L684.1,334.8L681.5,334.2L679.6,333.9L680.9,331.6L682.2,329.0L680.2,326.4L677.0,323.8L674.4,321.9L671.2,320.6L668.6,319.3L669.2,317.4L667.3,317.1L665.4,316.7Z" fill="#fc8d59"/>
<path d="M671.8,327.7L673.1,327.1L673.5,329.6L672.2,330.6Z" fill="#fc8d59"/>
<path d="M687.6,318.9L692.4,320.6L697.1,322.9L700.6,326.5L702.9,330.0L701.8,331.6L705.3,335.9L708.8,339.4L704.1,340.1L699.4,337.1L694.7,335.9L691.2,337.1L687.6,335.9Z" fill="url(#hatch)" stroke="#999" stroke-opacity="0.38"/>
<path d="M704.6,326.5L708.8,324.6L712.4,322.2L714.0,323.6L710.7,326.5L706.5,328.4Z" fill="url(#hatch)" stroke="#999" stroke-opacity="0.38"/>
<path d="M593.5,296.0L596.1,296.6L598.7,297.9L600.0,301.2L601.9,304.4L603.2,307.6L602.3,309.6L600.0,308.3L597.4,305.1L595.5,301.2L594.2,297.9Z" fill="#fdd49e"/>
<path d="M643.4,292.8L645.3,291.5L648.5,289.5L651.1,288.2L653.1,289.5L653.7,292.8L653.1,296.0L651.8,297.9L650.5,296.0L648.5,294.7L645.9,294.3L644.0,294.3Z" fill="#fdd49e"/>
<path d="M614.2,401.4L615.8,398.1L617.7,394.2L619.0,390.4L618.6,386.5L617.3,381.9L618.1,377.4L619.0,373.5L620.3,370.3L623.5,367.7L628.1,366.0L632.6,364.7L637.1,363.2L639.7,360.6L641.9,357.4L644.9,355.4L648.1,352.2L651.4,349.6L653.9,348.9L656.5,351.3L659.1,348.9L661.1,346.4L663.0,344.0L665.6,342.2L668.2,343.1L671.4,344.4L675.9,344.4L675.6,347.0L673.4,349.6L672.7,351.5L675.3,353.5L678.5,356.1L681.8,358.6L684.4,356.7L685.6,352.8L686.9,348.9L688.0,345.1L689.3,341.4L690.6,343.1L691.5,347.0L693.4,349.6L694.4,353.5L695.4,358.0L697.3,361.9L699.6,365.8L701.4,369.6L703.5,373.5L705.3,377.4L706.1,381.3L705.3,385.8L704.0,389.7L701.8,393.6L699.2,397.5L696.6,401.4L693.4,405.2L690.2,408.5L686.9,411.1L684.4,412.6L679.4,413.1L673.5,414.4L668.8,413.6L665.3,411.3L664.3,409.8L663.6,406.5L664.7,403.3L664.9,400.1L663.0,402.0L661.1,403.9L659.1,402.0L660.4,400.1L657.8,398.1L654.6,396.2L650.7,395.5L646.2,395.8L641.6,396.8L637.1,398.1L633.2,400.1L629.4,401.4L625.5,402.3L621.6,403.3L617.7,404.3L615.1,403.3Z" fill="#fdd49e"/>
<path d="M667.6,420.6L672.4,418.9L677.1,419.4L675.9,422.9L672.4,426.0L668.8,426.5Z" fill="#fdd49e"/>
<path d="M738.9,403.4L740.6,402.5L741.8,406.5L744.1,410.0L746.5,411.2L744.1,414.2L740.6,415.9L737.1,418.9L733.5,421.3L731.9,418.9L734.7,415.9L737.1,412.4L738.2,407.6Z" fill="#fff7ec"/>
<path d="M705.3,431.6L710.0,428.8L715.9,426.5L721.8,423.6L726.5,420.6L730.0,418.9L731.2,421.3L727.6,424.1L722.9,426.9L717.1,430.0L711.2,433.1L706.5,434.0Z" fill="#fff7ec"/>
<path d="M734.7,365.3L736.6,365.8L739.9,370.0L738.2,371.2L735.2,367.6Z" fill="url(#hatch)" stroke="#999" stroke-opacity="0.38"/>
<path d="M766.5,358.2L770.0,356.4L773.5,355.4L772.4,357.1L768.1,360.1Z" fill="url(#hatch)" stroke="#999" stroke-opacity="0.38"/>
<path d="M9.0,261.1L10.2,260.0L11.6,260.7L12.0,261.8L10.6,262.8L9.5,263.5L9.0,262.3Z" fill="#ef6548"/>
<path d="M2.0,254.8L3.2,254.6L3.4,255.6L2.3,255.8Z" fill="#ef6548"/>
<path d="M4.9,256.3L6.5,256.4L6.7,257.2L5.3,257.1Z" fill="#ef6548"/>
<path d="M7.1,257.2L8.5,257.5L9.7,258.2L9.9,258.9L8.6,258.5L7.2,257.8Z" fill="#ef6548"/>
<path d="M409.9,180.6L412.8,179.0L416.1,178.6L419.4,178.2L422.7,178.6L424.8,177.8L426.8,178.2L426.5,175.5L429.1,176.5L432.6,178.2L435.6,180.6L439.1,182.4L442.1,183.5L443.2,185.3L443.0,188.2L440.9,190.0L438.5,190.8L436.2,191.8L435.0,193.2L435.6,195.1L433.8,196.7L432.1,195.3L430.3,193.5L427.4,192.9L433.4,195.1L431.8,193.4L430.5,192.2L428.5,191.2L426.8,189.7L424.8,190.1L423.5,191.4L422.7,193.0L421.5,192.2L420.2,189.7L418.6,188.1L416.9,187.2L414.9,187.1L412.8,187.2L411.2,186.6L409.5,185.6L408.7,183.9L408.7,182.7L409.5,180.6Z" fill="#fee8c8"/>
<path d="M418.6,188.1L420.2,189.7L421.5,192.2L422.7,193.0L422.3,194.2L421.1,193.8L419.8,191.8L419.0,189.7Z" fill="url(#hatch)" stroke="#999" stroke-opacity="0.38"/>
<path d="M343.8,200.3L346.8,201.5L347.4,204.4L346.2,207.9L346.8,211.5L345.8,214.4L346.8,216.8" fill="none"/>
<path d="M359.1,198.5L362.6,199.5L365.8,200.6L369.1,201.5L370.9,203.2" fill="none"/>
<path d="M365.0,181.5L367.9,183.2L370.9,184.4L373.8,185.4L375.6,186.2L376.8,187.4L376.2,189.7L375.6,192.1L376.8,193.8L375.6,195.6L376.8,197.4L377.4,199.1" fill="none"/>
<path d="M369.1,178.5L370.9,179.7L373.2,179.1L375.0,178.5L375.6,176.2" fill="none"/>
<path d="M375.0,181.5L375.6,183.8L374.4,185.4" fill="none"/>
<path d="M375.6,192.1L377.9,190.9L381.5,190.3L383.2,191.5L382.1,193.2L379.1,194.4L376.8,193.8" fill="none"/>
<path d="M382.6,188.5L385.6,188.3L388.5,187.9L391.5,187.4L393.8,188.5L393.2,190.9L390.3,192.1L386.8,192.4L383.8,192.1L383.2,191.5" fill="none"/>
<path d="M390.3,192.9L386.8,192.4" fill="none"/>
<path d="M387.9,182.3L390.3,181.5L392.1,180.3L395.0,181.5L397.9,182.6L399.7,184.4L397.4,185.8L394.4,186.5L391.5,187.4L389.7,186.2L388.5,184.4" fill="none"/>
<path d="M397.4,185.8L399.7,184.4L403.2,183.8L406.2,183.8L408.5,184.4L407.4,186.2L404.4,186.8L400.9,187.4L398.5,187.9L396.2,187.9L393.8,188.5" fill="none"/>
<path d="M407.4,186.2L408.5,187.9L406.8,190.3L403.8,192.1L400.3,193.2L397.4,192.6L395.0,191.5L393.2,190.9" fill="none"/>
<path d="M392.1,191.7L393.8,192.4L396.2,192.9L397.4,192.6" fill="none"/>
<path d="M393.2,193.2L395.0,193.8L397.9,194.4L400.9,193.8L403.8,193.2L403.8,192.1" fill="none"/>
<path d="M408.5,187.9L410.3,186.8" fill="none"/>
<path d="M407.4,193.2L408.5,195.6L410.9,197.1L413.8,197.9L417.4,198.3L421.5,197.9L423.0,199.7" fill="none"/>
<path d="M406.2,194.4L407.4,193.2" fill="none"/>
<path d="M410.3,201.5L412.1,204.4L414.4,205.0L417.4,204.4L419.7,205.6" fill="none"/>
<path d="M406.2,208.5L408.5,207.4L410.3,205.6L412.1,204.4" fill="none"/>
<path d="M409.1,203.2L410.3,205.6" fill="none"/>
<path d="M384.7,164.4L385.9,160.9L385.3,157.4L384.1,153.8L384.7,150.3L385.3,146.8L387.6,143.2L390.6,140.3L394.1,137.9L397.6,136.2L400.6,135.6L402.4,137.4L404.1,140.3L403.5,143.2L404.7,144.4" fill="none"/>
<path d="M402.4,137.4L405.3,135.6L408.2,134.4L410.6,135.6L411.8,137.9" fill="none"/>
<path d="M403.2,165.3L406.8,164.1L410.9,163.5L415.6,164.1" fill="none"/>
<path d="M405.0,170.0L407.9,168.8L411.5,167.6L414.4,168.2" fill="none"/>
<path d="M406.2,160.0L410.3,159.4L415.0,158.6" fill="none"/>
<path d="M655.2,132.3L656.9,131.9L658.6,133.3L656.9,133.4Z" fill="#fc8d59"/>
<path d="M343.5,240.6L349.3,246.4L350.1,272.8L336.9,273.1L334.5,270.3L329.5,269.5L324.6,271.9" fill="none" stroke="#888" stroke-opacity="0.5" stroke-width="0.4"/>
<path d="M334.5,241.5L336.9,246.4L334.5,252.2L333.6,257.1L324.6,257.9" fill="none" stroke="#888" stroke-opacity="0.5" stroke-width="0.4"/>
<path d="M372.4,263.2L371.5,269.5L372.4,274.4L367.4,275.2L362.5,274.4L358.4,276.1L353.4,279.4L350.9,282.6" fill="none" stroke="#888" stroke-opacity="0.5" stroke-width="0.4"/>
<path d="M350.1,272.8L353.4,274.4L355.1,277.7" fill="none" stroke="#888" stroke-opacity="0.5" stroke-width="0.4"/>
<path d="M384.7,229.9L383.9,234.9L385.5,239.8L384.7,244.8L388.8,251.4L397.1,253.0L416.8,262.1L418.5,260.4L418.8,256.3L418.8,229.9" fill="none" stroke="#888" stroke-opacity="0.5" stroke-width="0.4"/>
<path d="M397.1,253.0L398.7,260.4L396.7,267.8L394.6,274.4L395.4,279.4L398.7,281.8L397.1,286.8L400.4,290.9L403.6,292.5L410.2,290.9L415.2,288.4L416.8,285.9L415.2,281.0L414.4,274.4L416.8,267.8L416.8,262.1" fill="none" stroke="#888" stroke-opacity="0.5" stroke-width="0.4"/>
<path d="M372.4,274.4L375.6,277.7L380.6,278.0L385.5,279.4L390.5,278.5L394.6,279.4" fill="none" stroke="#888" stroke-opacity="0.5" stroke-width="0.4"/>
<path d="M372.4,274.4L371.5,277.7L370.7,284.3L369.9,290.9L370.7,295.8" fill="none" stroke="#888" stroke-opacity="0.5" stroke-width="0.4"/>
<path d="M397.1,286.8L393.8,290.9L390.5,294.2L387.2,297.5L383.9,299.9L380.6,300.8" fill="none" stroke="#888" stroke-opacity="0.5" stroke-width="0.4"/>
<path d="M416.8,285.9L420.1,288.4L423.4,286.8L427.5,288.4L433.3,286.8L436.6,281.8L438.2,280.2L439.9,282.6L440.7,288.4L444.8,290.9L448.1,294.2L451.4,297.5" fill="none" stroke="#888" stroke-opacity="0.5" stroke-width="0.4"/>
<path d="M451.4,271.9L448.1,274.4L446.5,279.4L444.8,284.3L443.2,289.2L444.8,290.9" fill="none" stroke="#888" stroke-opacity="0.5" stroke-width="0.4"/>
<path d="M420.1,288.4L423.4,294.2L428.4,298.3L433.3,301.6L439.9,302.4L446.5,302.4L449.8,299.1L453.1,297.5" fill="none" stroke="#888" stroke-opacity="0.5" stroke-width="0.4"/>
<path d="M428.4,298.3L425.1,299.9L420.1,299.1L415.2,300.8L410.2,299.9L406.9,302.4L403.6,305.7L401.2,302.4L398.7,297.5L399.5,294.2L400.4,290.9" fill="none" stroke="#888" stroke-opacity="0.5" stroke-width="0.4"/>
<path d="M403.6,305.7L400.4,306.5L395.4,306.5L390.5,306.5L388.0,303.2L385.5,300.8L387.2,297.5" fill="none" stroke="#888" stroke-opacity="0.5" stroke-width="0.4"/>
<path d="M324.6,271.9L327.9,274.4L332.8,276.1L334.5,279.4L331.2,281.8L327.9,280.2L324.6,279.4" fill="none" stroke="#888" stroke-opacity="0.5" stroke-width="0.4"/>
<path d="M331.2,281.8L334.5,284.3L338.6,285.9L341.1,290.1L337.8,290.9L334.5,288.4L332.0,286.8" fill="none" stroke="#888" stroke-opacity="0.5" stroke-width="0.4"/>
<path d="M337.8,290.9L341.1,294.2L344.4,298.3" fill="none" stroke="#888" stroke-opacity="0.5" stroke-width="0.4"/>
<path d="M341.1,290.1L345.2,287.6L350.9,286.8L355.1,288.4L355.9,294.2L356.7,298.3" fill="none" stroke="#888" stroke-opacity="0.5" stroke-width="0.4"/>
<path d="M350.9,282.6L355.9,281.0L362.5,280.2L367.4,281.8L370.7,284.3L365.8,286.8L360.8,287.6L355.9,288.4L353.4,286.8L350.9,286.8" fill="none" stroke="#888" stroke-opacity="0.5" stroke-width="0.4"/>
<path d="M364.9,288.4L365.8,294.2L366.6,297.5" fill="none" stroke="#888" stroke-opacity="0.5" stroke-width="0.4"/>
<path d="M367.4,287.6L369.4,296.6" fill="none" stroke="#888" stroke-opacity="0.5" stroke-width="0.4"/>
<path d="M396.5,290.0L397.3,296.6L396.5,302.4L400.6,306.5L404.7,304.8L406.4,301.5L412.9,300.2L421.2,299.6L427.8,300.7L432.7,304.0L434.4,307.3L432.4,312.2L430.7,317.2L430.2,322.1L431.4,327.1L432.4,332.8L429.4,334.5" fill="none" stroke="#888" stroke-opacity="0.5" stroke-width="0.4"/>
<path d="M392.4,327.9L401.4,329.5L406.4,330.4L411.3,332.8L412.9,337.8L417.9,339.4L422.8,341.1L427.8,344.4L429.4,346.8L430.2,341.1L429.4,335.3L432.7,333.6L435.2,334.5L439.3,336.1L440.1,339.4L436.8,342.7L432.7,346.0L429.4,346.8" fill="none" stroke="#888" stroke-opacity="0.5" stroke-width="0.4"/>
<path d="M412.9,337.8L413.8,341.9L417.9,342.7L412.9,346.8L412.9,355.9L409.6,358.4L401.4,357.9L390.7,357.5" fill="none" stroke="#888" stroke-opacity="0.5" stroke-width="0.4"/>
<path d="M412.9,346.8L417.9,353.4L422.8,355.1L427.8,352.6L432.7,350.1L436.8,350.9L439.3,355.1L442.6,355.9L441.8,347.6L444.2,344.4L442.6,339.4L440.1,339.4" fill="none" stroke="#888" stroke-opacity="0.5" stroke-width="0.4"/>
<path d="M432.7,304.0L437.6,303.2L442.6,302.4L443.4,306.5L441.8,312.2L436.0,315.5L432.7,316.4" fill="none" stroke="#888" stroke-opacity="0.5" stroke-width="0.4"/>
<path d="M443.4,302.4L450.8,306.5L457.4,310.6" fill="none" stroke="#888" stroke-opacity="0.5" stroke-width="0.4"/>
<path d="M434.4,314.7L441.8,315.5L447.5,318.0L451.6,322.9L453.3,329.5L449.2,332.0L442.6,331.2L436.8,328.7L432.7,325.4L430.2,322.1" fill="none" stroke="#888" stroke-opacity="0.5" stroke-width="0.4"/>
<path d="M442.6,339.4L449.2,338.6L454.9,337.8" fill="none" stroke="#888" stroke-opacity="0.5" stroke-width="0.4"/>
<path d="M436.8,350.9L438.5,355.1L436.8,359.2L432.7,362.5L428.6,360.8L425.3,357.5L423.6,355.1" fill="none" stroke="#888" stroke-opacity="0.5" stroke-width="0.4"/>
<path d="M428.6,360.8L426.1,364.9L422.8,367.4L419.5,370.7L415.4,369.1L410.5,369.1L410.5,359.2L412.9,358.4" fill="none" stroke="#888" stroke-opacity="0.5" stroke-width="0.4"/>
<path d="M410.5,369.1L409.6,379.8" fill="none" stroke="#888" stroke-opacity="0.5" stroke-width="0.4"/>
<path d="M432.7,294.9L437.6,293.3L442.6,294.1L443.4,302.4" fill="none" stroke="#888" stroke-opacity="0.5" stroke-width="0.4"/>
<path d="M457.4,310.6L458.2,299.9L460.7,294.9L467.3,290.0" fill="none" stroke="#888" stroke-opacity="0.5" stroke-width="0.4"/>
<path d="M396.5,302.4L389.9,305.6L384.9,306.5" fill="none" stroke="#888" stroke-opacity="0.5" stroke-width="0.4"/>
<path d="M384.9,299.9L383.3,306.5L384.9,311.4L389.9,312.2L392.4,316.4L391.5,322.9L392.4,327.9" fill="none" stroke="#888" stroke-opacity="0.5" stroke-width="0.4"/>
</g>
<g>
<rect x="65.5" y="537.5" width="48" height="11" fill="url(#hatch)" stroke="#c4c4c4" stroke-width="0.6"/>
<line x1="89.5" y1="534.5" x2="89.5" y2="537.5" stroke="#bbb" stroke-width="0.7"/>
<text class="lg" x="66.8" y="529.7" textLength="45.6" lengthAdjust="spacingAndGlyphs">No data</text>
<rect x="133" y="537.5" width="81.5" height="11" fill="#fff7ec"/>
<rect x="214.5" y="537.5" width="81.5" height="11" fill="#fee8c8"/>
<rect x="296" y="537.5" width="81.5" height="11" fill="#fdd49e"/>
<rect x="377.5" y="537.5" width="81.5" height="11" fill="#fdbb84"/>
<rect x="459" y="537.5" width="81" height="11" fill="#fc8d59"/>
<rect x="540" y="537.5" width="81.5" height="11" fill="#ef6548"/>
<rect x="621.5" y="537.5" width="81.5" height="11" fill="#d7301f"/>
<path d="M703,537.5H778.5L784,543L778.5,548.5H703Z" fill="#990000"/>
<path d="M133,537.5H778.5L784,543L778.5,548.5H133Z" fill="none" stroke="#b9b4ae" stroke-width="0.5"/>
<g stroke="#b0b0b0" stroke-width="0.7">
<line x1="133" y1="518" x2="133" y2="548.5"/>
<line x1="214.5" y1="534" x2="214.5" y2="548.5"/>
<line x1="296" y1="518" x2="296" y2="548.5"/>
<line x1="377.5" y1="534" x2="377.5" y2="548.5"/>
<line x1="459" y1="518" x2="459" y2="548.5"/>
<line x1="540" y1="534" x2="540" y2="548.5"/>
<line x1="621.5" y1="518" x2="621.5" y2="548.5"/>
<line x1="703" y1="534" x2="703" y2="548.5"/>
</g>
<text class="lg" x="113.1" y="515.7" textLength="39.8" lengthAdjust="spacingAndGlyphs">0 TWh</text>
<text class="lg" x="187.4" y="529.7" textLength="53.9" lengthAdjust="spacingAndGlyphs">100 TWh</text>
<text class="lg" x="268.4" y="515.7" textLength="54.4" lengthAdjust="spacingAndGlyphs">200 TWh</text>
<text class="lg" x="350.2" y="529.7" textLength="54.4" lengthAdjust="spacingAndGlyphs">500 TWh</text>
<text class="lg" x="426.1" y="515.7" textLength="65.3" lengthAdjust="spacingAndGlyphs">1,000 TWh</text>
<text class="lg" x="506.7" y="529.7" textLength="66.0" lengthAdjust="spacingAndGlyphs">2,000 TWh</text>
<text class="lg" x="588.3" y="515.7" textLength="66.0" lengthAdjust="spacingAndGlyphs">5,000 TWh</text>
<text class="lg" x="666.1" y="529.7" textLength="73.4" lengthAdjust="spacingAndGlyphs">10,000 TWh</text>
</g>
<g>
<text class="ft" x="16.6" y="581" font-weight="bold" textLength="71" lengthAdjust="spacingAndGlyphs">Data source:</text>
<text class="ft" x="92.3" y="581" textLength="337" lengthAdjust="spacingAndGlyphs">Energy Institute - Statistical Review of World Energy (2025)</text>
<text class="ft" x="601.2" y="581" textLength="230" lengthAdjust="spacingAndGlyphs">OurWorldinData.org/fossil-fuels | CC BY</text>
</g>
</svg>
</body>
</html>
